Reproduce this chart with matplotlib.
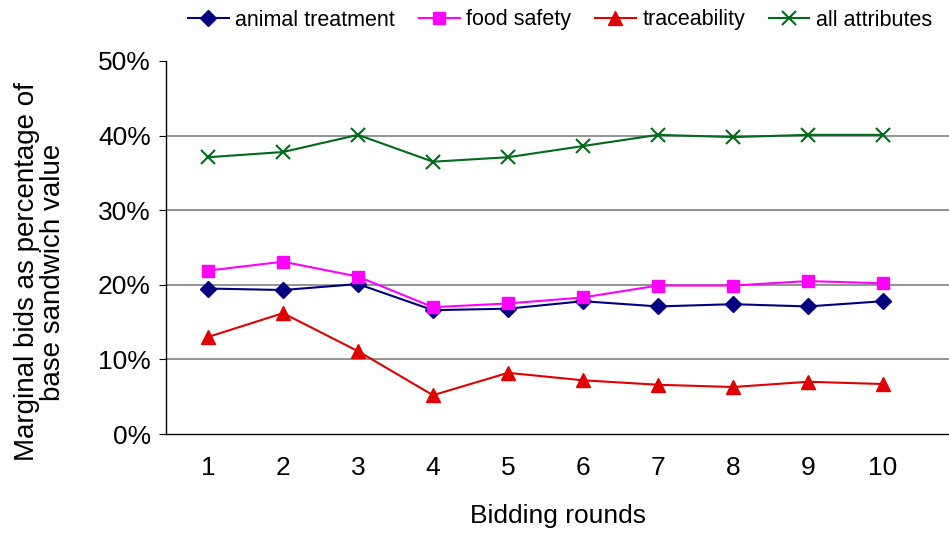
import matplotlib.pyplot as plt
from matplotlib.ticker import PercentFormatter

plt.rcParams['font.family'] = ['Liberation Sans', 'DejaVu Sans']

# === Dados ===
rounds = [1, 2, 3, 4, 5, 6, 7, 8, 9, 10]
animal_treatment = [19.5, 19.3, 20.1, 16.6, 16.8, 17.8, 17.1, 17.4, 17.1, 17.8]
food_safety = [21.9, 23.1, 21.1, 17.0, 17.5, 18.3, 19.9, 19.9, 20.5, 20.2]
traceability = [13.0, 16.2, 11.1, 5.2, 8.2, 7.2, 6.6, 6.3, 7.0, 6.7]
all_attributes = [37.1, 37.8, 40.1, 36.5, 37.1, 38.6, 40.1, 39.8, 40.1, 40.1]

# === Figura ===
fig = plt.figure(figsize=(9.49, 5.35), dpi=100)
ax = fig.add_axes([166 / 949, 1 - 434 / 535, (949 - 166) / 949, (434 - 61) / 535])

ax.plot(rounds, animal_treatment, color="#000080", marker="D", markersize=8, lw=1.5,
        label="animal treatment")
ax.plot(rounds, food_safety, color="#FF00FF", marker="s", markersize=9, lw=1.5,
        label="food safety")
ax.plot(rounds, traceability, color="#E00000", marker="^", markersize=10, lw=1.5,
        label="traceability")
ax.plot(rounds, all_attributes, color="#006A1A", marker="x", markersize=10, mew=1.5, lw=1.5,
        label="all attributes")

ax.set_xlim(0.44, 10.88)
ax.set_ylim(0, 50)
ax.set_yticks([0, 10, 20, 30, 40, 50])
ax.yaxis.set_major_formatter(PercentFormatter(decimals=0))
ax.set_xticks(rounds)

for y in [10, 20, 30, 40]:
    ax.axhline(y, color="#808080", lw=1.2, zorder=0)

for s in ["top", "right"]:
    ax.spines[s].set_visible(False)
ax.spines["left"].set_linewidth(1.0)
ax.spines["bottom"].set_linewidth(1.0)
ax.tick_params(axis="y", labelsize=19, length=5, direction="out", pad=6)
ax.tick_params(axis="x", labelsize=19, length=0, pad=16)

ax.set_xlabel("Bidding rounds", fontsize=19, labelpad=17)
fig.text(40 / 949, 1 - 272 / 535, "Marginal bids as percentage of\nbase sandwich value",
         fontsize=20, rotation=90, ha="center", va="center", linespacing=1.0,
         multialignment="center")

ax.legend(loc="center", bbox_to_anchor=(560 / 949, 1 - 20 / 535),
          bbox_transform=fig.transFigure, ncol=4, frameon=False, fontsize=15.5,
          handlelength=1.9, handletextpad=0.3, columnspacing=1.1)

plt.savefig("out.png", dpi=100)
